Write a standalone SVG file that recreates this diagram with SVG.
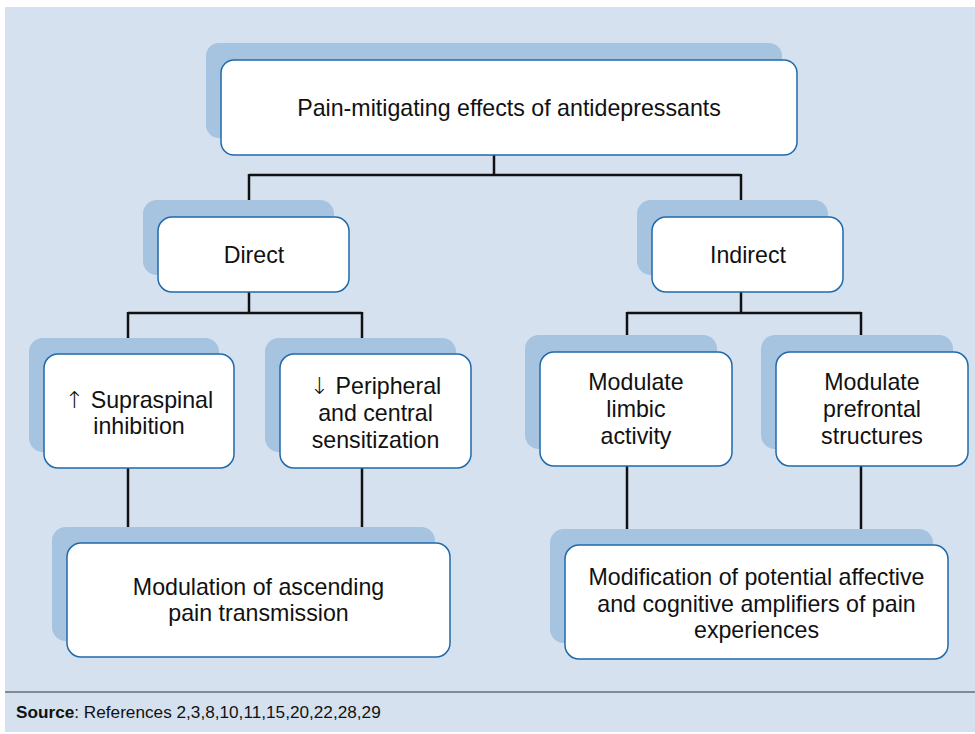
<svg xmlns="http://www.w3.org/2000/svg" width="975" height="734" viewBox="0 0 975 734">
<style>
.sh{fill:#a6c3e0}
.bx{fill:#ffffff;stroke:#1f6aac;stroke-width:1.5}
.t{font-family:"Liberation Sans",Arial,sans-serif;font-size:23.2px;fill:#111;text-anchor:middle}
.ar{font-family:"DejaVu Sans",sans-serif;font-weight:300}
.c{fill:none;stroke:#111;stroke-width:2.5}
</style>
<rect x="5" y="7" width="970" height="725" fill="#d5e1ef"/>
<line x1="5" y1="692" x2="975" y2="692" stroke="#333" stroke-width="1.2"/>
<text x="16" y="718" font-family="'Liberation Sans',Arial,sans-serif" font-size="17.2" fill="#111"><tspan font-weight="bold">Source</tspan>: References 2,3,8,10,11,15,20,22,28,29</text>

<g id="connectors">
<path class="c" d="M494 155V175M249 175H741M249 174V200M741 174V200"/>
<path class="c" d="M249 291V313M128 313H362M128 312V338M362 312V338"/>
<path class="c" d="M741 291V313M627 313H861M627 312V335M861 312V335"/>
<path class="c" d="M128 468V527M362 468V527"/>
<path class="c" d="M627 466V529M861 466V529"/>
</g>

<g id="root">
<rect class="sh" x="206" y="43" width="576" height="95" rx="13"/>
<rect class="bx" x="221" y="60" width="576" height="95" rx="13"/>
<text class="t" x="509" y="116">Pain-mitigating effects of antidepressants</text>
</g>

<g id="direct">
<rect class="sh" x="143" y="200" width="191" height="75" rx="14"/>
<rect class="bx" x="158" y="217" width="191" height="75" rx="14"/>
<text class="t" x="254" y="263">Direct</text>
</g>

<g id="indirect">
<rect class="sh" x="637" y="200" width="191" height="75" rx="14"/>
<rect class="bx" x="652" y="217" width="191" height="75" rx="14"/>
<text class="t" x="748" y="263">Indirect</text>
</g>

<g id="supraspinal">
<rect class="sh" x="29" y="338" width="190" height="114" rx="14"/>
<rect class="bx" x="44" y="354" width="190" height="114" rx="14"/>
<text class="t" x="139" y="408"><tspan class="ar">↑</tspan> Supraspinal</text>
<text class="t" x="139" y="434">inhibition</text>
</g>

<g id="peripheral">
<rect class="sh" x="265" y="338" width="191" height="114" rx="14"/>
<rect class="bx" x="280" y="354" width="191" height="114" rx="14"/>
<text class="t" x="375.5" y="394"><tspan class="ar">↓</tspan> Peripheral</text>
<text class="t" x="375.5" y="421">and central</text>
<text class="t" x="375.5" y="448">sensitization</text>
</g>

<g id="limbic">
<rect class="sh" x="525" y="335" width="192" height="114" rx="14"/>
<rect class="bx" x="540" y="352" width="192" height="114" rx="14"/>
<text class="t" x="636" y="390">Modulate</text>
<text class="t" x="636" y="417">limbic</text>
<text class="t" x="636" y="444">activity</text>
</g>

<g id="prefrontal">
<rect class="sh" x="761" y="335" width="192" height="114" rx="14"/>
<rect class="bx" x="776" y="352" width="192" height="114" rx="14"/>
<text class="t" x="872" y="390">Modulate</text>
<text class="t" x="872" y="417">prefrontal</text>
<text class="t" x="872" y="444">structures</text>
</g>

<g id="ascending">
<rect class="sh" x="52" y="527" width="383" height="114" rx="14"/>
<rect class="bx" x="67" y="543" width="383" height="114" rx="14"/>
<text class="t" x="258.5" y="595">Modulation of ascending</text>
<text class="t" x="258.5" y="621">pain transmission</text>
</g>

<g id="amplifiers">
<rect class="sh" x="550" y="529" width="383" height="114" rx="14"/>
<rect class="bx" x="565" y="545" width="383" height="114" rx="14"/>
<text class="t" x="756.5" y="585">Modification of potential affective</text>
<text class="t" x="756.5" y="612">and cognitive amplifiers of pain</text>
<text class="t" x="756.5" y="638">experiences</text>
</g>
</svg>
